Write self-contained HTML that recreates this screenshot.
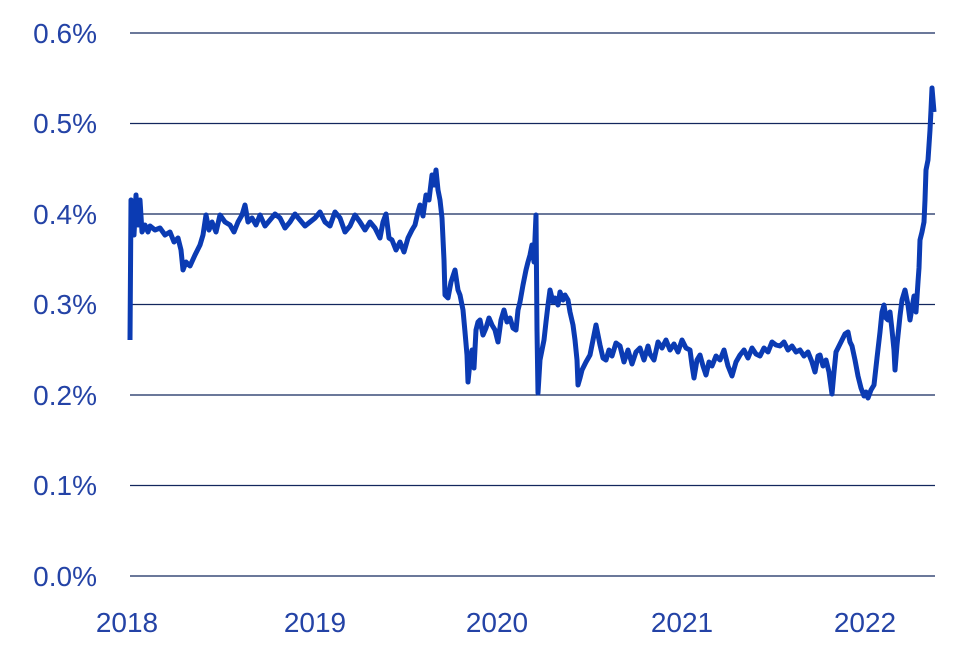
<!DOCTYPE html>
<html><head><meta charset="utf-8"><style>
html,body{margin:0;padding:0;background:#fff;}
svg{display:block;}
text{font-family:"Liberation Sans",sans-serif;fill:#2443a6;font-size:28px;}
</style></head><body>
<svg width="960" height="666" viewBox="0 0 960 666">
<g stroke="#13275e" stroke-width="1.3">
<line x1="130" y1="33" x2="935" y2="33"/>
<line x1="130" y1="123.5" x2="935" y2="123.5"/>
<line x1="130" y1="214" x2="935" y2="214"/>
<line x1="130" y1="304.5" x2="935" y2="304.5"/>
<line x1="130" y1="395" x2="935" y2="395"/>
<line x1="130" y1="485.5" x2="935" y2="485.5"/>
<line x1="130" y1="576" x2="935" y2="576"/>
</g>
<g text-anchor="end">
<text x="97" y="43">0.6%</text>
<text x="97" y="133">0.5%</text>
<text x="97" y="224">0.4%</text>
<text x="97" y="314">0.3%</text>
<text x="97" y="405">0.2%</text>
<text x="97" y="495">0.1%</text>
<text x="97" y="586">0.0%</text>
</g>
<g text-anchor="middle">
<text x="127" y="632">2018</text>
<text x="315" y="632">2019</text>
<text x="497" y="632">2020</text>
<text x="682" y="632">2021</text>
<text x="865" y="632">2022</text>
</g>
<polyline fill="none" stroke="#0b3bb3" stroke-width="5" stroke-linejoin="round" points="
130,340 131,200 134,235 136,195 138,225 140,200 142,232 145,225 148,232 150,226 155,230 160,228 165,235 170,232 174,242 178,238 181,250 183,270 186,262 190,266 195,255 200,245 203,235 206,215 209,230 212,222 216,232 220,215 225,222 230,225 234,232 238,222 242,215 245,205 248,222 252,218 256,225 260,215 265,226 270,220 275,214 280,218 285,228 290,222 295,214 300,220 305,226 310,222 315,218 320,212 325,222 330,226 335,212 340,218 345,232 350,226 355,215 360,222 365,230 370,222 375,228 380,238 383,222 386,214 389,238 392,240 396,250 400,242 404,252 408,238 412,230 415,225 418,212 420,205 423,216 426,195 429,200 432,175 434,185 436,170 438,190 440,200 442,218 444,260 445,295 448,298 451,282 455,270 458,290 460,295 463,310 465,332 467,355 468,382 470,362 472,350 474,368 476,330 478,322 480,320 483,335 486,328 489,318 492,325 495,330 498,342 501,320 504,310 507,322 510,318 513,328 516,330 518,310 520,302 523,285 526,270 528,262 530,255 532,245 534,262 536,215 537,330 538,393 540,360 542,350 544,340 546,322 548,305 550,290 553,302 555,298 558,305 560,292 563,300 565,295 568,300 570,312 573,325 575,340 577,360 578,385 580,378 582,370 586,362 590,355 593,340 596,325 598,335 600,345 603,358 606,360 609,350 612,356 616,343 620,346 624,362 628,350 632,364 636,352 640,348 644,360 648,346 650,354 654,360 658,342 662,348 666,340 670,350 674,344 678,352 682,340 686,348 690,350 692,365 694,378 697,360 700,355 703,366 706,375 709,362 712,366 716,356 720,360 724,350 728,366 732,376 736,362 740,355 744,350 748,358 752,348 756,354 760,356 764,348 768,352 772,342 776,345 780,346 784,342 788,350 792,346 796,352 800,350 804,356 808,352 812,362 815,372 818,356 820,355 823,366 826,360 829,372 832,394 834,372 836,352 839,346 842,340 845,334 848,332 850,342 852,346 855,360 858,376 861,388 864,396 866,392 868,398 871,390 874,385 877,358 880,332 882,312 884,305 886,318 888,320 890,312 892,330 894,350 895,370 897,345 900,316 902,300 905,290 908,305 910,320 912,308 914,296 916,312 918,282 919,268 920,240 922,232 924,222 925,200 926,170 928,160 930,130 931,110 932,88 933,100 934,112"/>
</svg>
</body></html>
